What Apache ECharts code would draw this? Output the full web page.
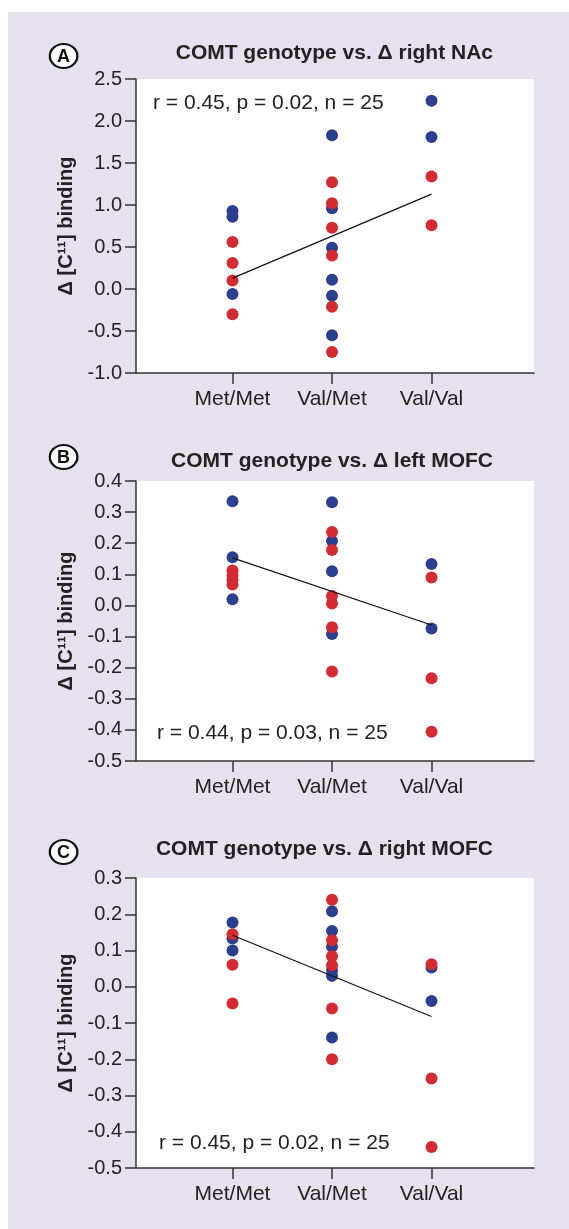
<!DOCTYPE html>
<html>
<head>
<meta charset="utf-8">
<script src="https://cdn.jsdelivr.net/npm/echarts@6/dist/echarts.min.js"></script>
<style>
html, body { margin: 0; padding: 0; background: #fff; }
#panel { position: absolute; left: 8px; top: 12px; right: 0; bottom: 0; background: #e6e1ef; }
#chart { position: absolute; left: 0; top: 0; width: 569px; height: 1229px; }
</style>
</head>
<body>
<div id="panel"></div>
<div id="chart"></div>
<script>
const genotypes = [ 'Met/Met', 'Val/Met', 'Val/Val' ];

// A: right NAc (one list per genotype)
const nacBlue = [ [ 0.93, 0.86, -0.06 ], [ 1.83, 0.96, 0.49, 0.11, -0.08, -0.55 ], [ 2.24, 1.81 ] ];
const nacRed = [ [ 0.56, 0.31, 0.10, -0.30 ], [ 1.27, 1.02, 0.73, 0.40, -0.21, -0.75 ], [ 1.34, 0.76 ] ];
const nacFit = [ 0.13, 1.13 ];
const nacAxis = [ -1.0, 2.5, 0.5 ];

// B: left MOFC
const lMofcBlue = [ [ 0.335, 0.155, 0.02 ], [ 0.332, 0.207, 0.11, -0.092 ], [ 0.133, -0.074 ] ];
const lMofcRed = [ [ 0.112, 0.097, 0.082, 0.067 ], [ 0.236, 0.178, 0.03, 0.006, -0.07, -0.212 ], [ 0.09, -0.234, -0.406 ] ];
const lMofcFit = [ 0.153, -0.063 ];
const lMofcAxis = [ -0.5, 0.4, 0.1 ];

// C: right MOFC
const rMofcBlue = [ [ 0.177, 0.133, 0.10 ], [ 0.208, 0.154, 0.11, 0.045, 0.03, -0.14 ], [ 0.053, -0.039 ] ];
const rMofcRed = [ [ 0.145, 0.061, -0.046 ], [ 0.24, 0.128, 0.084, 0.059, -0.06, -0.2 ], [ 0.062, -0.253, -0.442 ] ];
const rMofcFit = [ 0.142, -0.082 ];
const rMofcAxis = [ -0.5, 0.3, 0.1 ];

const FONT = '"Liberation Sans", Arial, Helvetica, sans-serif';
const BLUE = '#2b3f8e';
const RED = '#d42a31';
const INK = '#222';

const panels = [
	{ letter: 'A', title: 'COMT genotype vs. \u0394 right NAc', stats: 'r = 0.45, p = 0.02, n = 25',
		blue: nacBlue, red: nacRed, fit: nacFit, axis: nacAxis,
		top: 79, height: 294, titleY: 53, letterY: 56, statsX: 153, statsY: 103 },
	{ letter: 'B', title: 'COMT genotype vs. \u0394 left MOFC', stats: 'r = 0.44, p = 0.03, n = 25',
		blue: lMofcBlue, red: lMofcRed, fit: lMofcFit, axis: lMofcAxis,
		top: 481, height: 280, titleY: 461, letterY: 457, statsX: 157, statsY: 733 },
	{ letter: 'C', title: 'COMT genotype vs. \u0394 right MOFC', stats: 'r = 0.45, p = 0.02, n = 25',
		blue: rMofcBlue, red: rMofcRed, fit: rMofcFit, axis: rMofcAxis,
		top: 878, height: 290, titleY: 849, letterY: 852, statsX: 159, statsY: 1143 }
];

const toPoints = ( groups ) => groups.flatMap( ( vals, i ) => vals.map( ( v ) => [ i + 1, v ] ) );

const axisLine = { show: true, onZero: false, lineStyle: { color: '#333', width: 1.5 } };
const tickStyle = { color: '#333', width: 1.5 };

const fmtTick = ( v ) => ( Math.abs( v ) < 1e-9 ? 0 : v ).toFixed( 1 );

const grid = [], xAxis = [], yAxis = [], series = [], graphic = [];

panels.forEach( ( p, i ) => {
	grid.push( {
		left: 136, top: p.top, width: 398, height: p.height,
		show: true, backgroundColor: '#fff', borderWidth: 0
	} );
	// categories sit at 1, 2, 3; the range is nudged so they land where the original puts them
	xAxis.push( {
		gridIndex: i, type: 'value', min: 0.03, max: 4.03,
		axisLine,
		axisTick: { show: true, length: 11, customValues: [ 1, 2, 3 ], lineStyle: tickStyle },
		axisLabel: {
			customValues: [ 1, 2, 3 ],
			formatter: ( v ) => genotypes[ Math.round( v ) - 1 ] || '',
			fontSize: 21, color: INK, fontFamily: FONT, margin: 16
		},
		splitLine: { show: false }
	} );
	yAxis.push( {
		gridIndex: i, type: 'value', min: p.axis[ 0 ], max: p.axis[ 1 ], interval: p.axis[ 2 ],
		axisLine,
		axisTick: { show: true, length: 11, lineStyle: tickStyle },
		axisLabel: { formatter: fmtTick, fontSize: 20, color: INK, fontFamily: FONT, margin: 14 },
		splitLine: { show: false },
		name: '\u0394 [C\u00b9\u00b9] binding',
		nameLocation: 'middle',
		nameGap: 58,
		nameTextStyle: { fontSize: 20, fontWeight: 'bold', color: INK, fontFamily: FONT }
	} );
	series.push( {
		type: 'scatter', xAxisIndex: i, yAxisIndex: i, symbolSize: 12,
		itemStyle: { color: BLUE, opacity: 1 }, data: toPoints( p.blue ), z: 2
	} );
	series.push( {
		type: 'scatter', xAxisIndex: i, yAxisIndex: i, symbolSize: 12,
		itemStyle: { color: RED, opacity: 1 }, data: toPoints( p.red ), z: 3
	} );
	series.push( {
		type: 'line', xAxisIndex: i, yAxisIndex: i, symbol: 'none',
		lineStyle: { color: '#111', width: 1.2 },
		data: [ [ 1, p.fit[ 0 ] ], [ 3, p.fit[ 1 ] ] ], z: 4
	} );

	graphic.push(
		{ type: 'circle', x: 63.6, y: p.letterY, scaleX: 1.15,
			shape: { cx: 0, cy: 0, r: 12 },
			style: { fill: '#fff', stroke: '#111', lineWidth: 2 } },
		{ type: 'text', x: 63.6, y: p.letterY + 1,
			style: { text: p.letter, align: 'center', verticalAlign: 'middle',
				fontSize: 18, fontWeight: 'bold', fontFamily: FONT, fill: '#111' } },
		{ type: 'text', x: 493, y: p.titleY,
			style: { text: p.title, align: 'right', verticalAlign: 'middle',
				fontSize: 21, fontWeight: 'bold', fontFamily: FONT, fill: INK } },
		{ type: 'text', x: p.statsX, y: p.statsY,
			style: { text: p.stats, align: 'left', verticalAlign: 'middle',
				fontSize: 21, fontFamily: FONT, fill: INK }, z: 10 }
	);
} );

const chart = echarts.init( document.getElementById( 'chart' ), null, { renderer: 'canvas' } );
chart.setOption( {
	animation: false,
	backgroundColor: 'transparent',
	grid,
	xAxis,
	yAxis,
	series,
	graphic
} );
</script>
</body>
</html>
